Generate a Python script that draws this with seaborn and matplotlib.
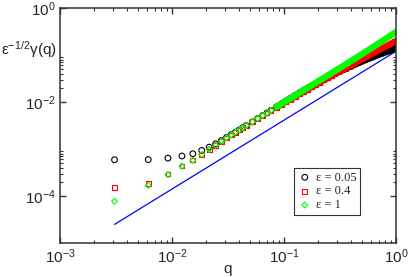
import matplotlib
matplotlib.use('Agg')
import matplotlib.pyplot as plt
import matplotlib.ticker as mticker
import seaborn as sns
import numpy as np
import pandas as pd

# mode index n, q = 2*pi*n/L with L = 2048
n_idx = [1, 2, 3, 4, 5, 6, 7, 8, 9, 10, 11, 12, 13, 14, 15, 17, 19, 21, 23, 25,
         28, 31, 34, 37, 41, 45, 49, 53, 58, 63, 68, 74, 80, 86, 93, 100, 108,
         116, 125, 134, 144, 154, 165, 176, 188, 200, 213, 226, 240, 254, 269,
         284, 300, 316, 326]
box_len = 2048

# log10 of eps^-1/2 gamma(q)
log_g_005 = [-3.228, -3.225, -3.194, -3.149, -3.100, -3.030, -2.960, -2.890, -2.820, -2.755,
             -2.695, -2.642, -2.593, -2.546, -2.503, -2.423, -2.352, -2.288, -2.230, -2.177,
             -2.105, -2.040, -1.981, -1.927, -1.862, -1.803, -1.751, -1.703, -1.651, -1.603,
             -1.560, -1.513, -1.472, -1.434, -1.395, -1.358, -1.320, -1.287, -1.251, -1.219,
             -1.187, -1.157, -1.127, -1.099, -1.072, -1.046, -1.020, -0.996, -0.973, -0.952,
             -0.929, -0.910, -0.890, -0.872, -0.860]
log_g_04 = [-3.817, -3.726, -3.530, -3.360, -3.235, -3.116, -3.010, -2.920, -2.836, -2.765,
            -2.700, -2.645, -2.594, -2.547, -2.503, -2.423, -2.353, -2.289, -2.233, -2.181,
            -2.111, -2.049, -1.992, -1.941, -1.880, -1.824, -1.774, -1.727, -1.675, -1.627,
            -1.582, -1.533, -1.490, -1.448, -1.404, -1.363, -1.320, -1.281, -1.238, -1.199,
            -1.159, -1.121, -1.082, -1.046, -1.010, -0.974, -0.939, -0.905, -0.872, -0.841,
            -0.807, -0.778, -0.747, -0.718, -0.700]
log_g_1 = [-4.112, -3.775, -3.545, -3.365, -3.240, -3.116, -3.010, -2.920, -2.836, -2.765,
           -2.700, -2.645, -2.594, -2.547, -2.503, -2.423, -2.352, -2.288, -2.230, -2.177,
           -2.105, -2.040, -1.981, -1.927, -1.862, -1.802, -1.748, -1.698, -1.641, -1.588,
           -1.539, -1.485, -1.436, -1.389, -1.340, -1.293, -1.244, -1.199, -1.150, -1.105,
           -1.058, -1.014, -0.969, -0.926, -0.883, -0.841, -0.799, -0.759, -0.719, -0.681,
           -0.641, -0.605, -0.567, -0.532, -0.510]

# reference power law (blue line)
line_q = [3.07e-3, 1.0]
line_y = [2.49e-5, 0.12]

labels = ['ε = 0.05', 'ε = 0.4', 'ε = 1']
colors = ['#000000', '#ff0000', '#00ff00']
markers = ['o', 's', 'D']
sizes = [17, 12, 9]
# above this n the markers pile up into a solid band
dense_from = 28

sns.set_style('ticks')
plt.rcParams['font.family'] = ['Liberation Sans', 'DejaVu Sans']
plt.rcParams['mathtext.fontset'] = 'custom'
plt.rcParams['mathtext.rm'] = 'Liberation Sans'
plt.rcParams['mathtext.it'] = 'Liberation Sans:italic'
plt.rcParams['mathtext.default'] = 'regular'

q = 2 * np.pi * np.array(n_idx) / box_len
rows = []
for lab, vals in zip(labels, [log_g_005, log_g_04, log_g_1]):
    rows.append(pd.DataFrame({'n': n_idx, 'q': q, 'g': 10 ** np.array(vals), 'eps': lab}))
df = pd.concat(rows, ignore_index=True)

fig, ax = plt.subplots(figsize=(4.09, 2.77), dpi=100)
fig.subplots_adjust(left=0.1467, right=0.9682, top=0.9711, bottom=0.1227)

sns.lineplot(x=line_q, y=line_y, color='#0000ff', lw=0.9, ax=ax)

for lab, c, m, s in zip(labels, colors, markers, sizes):
    sub = df[df['eps'] == lab]
    dense = sub[sub['n'] >= dense_from]
    sns.lineplot(data=dense, x='q', y='g', color=c, lw=4.6, legend=False,
                 solid_capstyle='round', ax=ax)
    sns.scatterplot(data=sub, x='q', y='g', marker=m, s=s, color=c,
                    facecolor='none', edgecolor=c, linewidth=0.8, label=lab, ax=ax)

ax.set_xscale('log')
ax.set_yscale('log')
ax.set_xlim(1e-3, 1)
ax.set_ylim(1e-5, 1)

ax.xaxis.set_major_locator(mticker.FixedLocator([1e-3, 1e-2, 1e-1, 1]))
ax.xaxis.set_minor_locator(mticker.LogLocator(base=10, subs=np.arange(2, 10), numticks=20))
ax.yaxis.set_major_locator(mticker.FixedLocator([1e-4, 1e-2, 1]))
ax.yaxis.set_minor_locator(mticker.FixedLocator([k * 1e-4 for k in range(2, 10)] +
                                                [k * 1e-2 for k in range(2, 10)]))
ax.xaxis.set_major_formatter(mticker.LogFormatterSciNotation())
ax.yaxis.set_major_formatter(mticker.LogFormatterSciNotation())
ax.xaxis.set_minor_formatter(mticker.NullFormatter())
ax.yaxis.set_minor_formatter(mticker.NullFormatter())

ax.tick_params(which='both', direction='in', top=True, right=True, color='#333333')
ax.tick_params(which='major', length=4, width=1.0, labelsize=11, pad=3)
ax.tick_params(which='minor', length=2.2, width=0.8)
for sp in ax.spines.values():
    sp.set_linewidth(1.1)
    sp.set_color('#333333')

ax.set_xlabel('q', fontsize=11, labelpad=-3)
ax.set_ylabel('ε$^{-1/2}$γ(q)', fontsize=11, rotation=0)
ax.yaxis.set_label_coords(-0.092, 0.78)

leg = ax.legend(loc='lower left', bbox_to_anchor=(0.695, 0.119), borderaxespad=0,
                frameon=True, fancybox=False, framealpha=1, edgecolor='#333333',
                prop={'family': 'Liberation Serif', 'size': 9},
                handletextpad=0.3, labelspacing=0.15, borderpad=0.3, handlelength=1.2)
leg.get_frame().set_linewidth(0.8)

fig.savefig('out.png', dpi=100)
